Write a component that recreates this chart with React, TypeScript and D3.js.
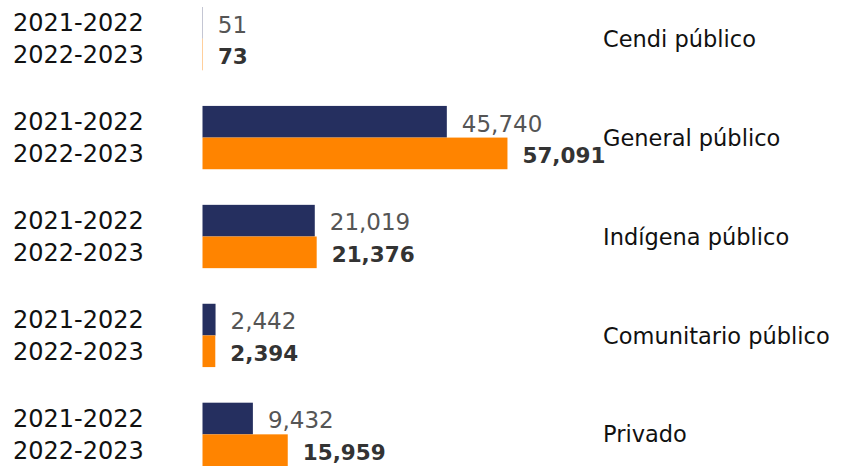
import { useEffect, useRef } from "react";
import * as d3 from "d3";

const categories = ["Cendi público", "General público", "Indígena público", "Comunitario público", "Privado"];
const periods = ["2021-2022", "2022-2023"];
const values2122 = [51, 45740, 21019, 2442, 9432];
const values2223 = [73, 57091, 21376, 2394, 15959];
const colors = ["#252f5f", "#ff8400"];

function App() {
    const myNode = useRef<HTMLDivElement>(null);

    useEffect(() => {
        const width = 847;
        const height = 472;
        const font = "'DejaVu Sans', sans-serif";

        d3.select(myNode.current).selectAll("*").remove();

        const svg = d3.select(myNode.current)
            .append("svg")
            .attr("width", width)
            .attr("height", height)
            .style("position", "absolute")
            .style("left", "0px")
            .style("top", "0px");

        const rows = categories.map((c, i) => ({
            category: c,
            values: [values2122[i], values2223[i]],
        }));

        const yScale = d3.scaleBand()
            .domain(categories)
            .range([7, 466])
            .paddingInner(0.36)
            .paddingOuter(0);

        const ySub = d3.scaleBand()
            .domain(periods)
            .range([0, yScale.bandwidth()]);

        const xScale = d3.scaleLinear()
            .domain([0, 60000])
            .range([202.5, 202.5 + 320.5]);

        const group = svg.selectAll("g.group")
            .data(rows)
            .enter()
            .append("g")
            .attr("class", "group")
            .attr("transform", d => `translate(0,${yScale(d.category)})`);

        // bars
        group.selectAll("rect")
            .data(d => d.values.map((v, i) => ({ period: periods[i], value: v, i })))
            .enter()
            .append("rect")
            .attr("x", xScale(0))
            .attr("y", d => ySub(d.period)!)
            .attr("width", d => xScale(d.value) - xScale(0))
            .attr("height", ySub.bandwidth())
            .attr("fill", d => colors[d.i]);

        // left period labels
        group.selectAll("text.period")
            .data(periods)
            .enter()
            .append("text")
            .attr("class", "period")
            .attr("x", 13)
            .attr("y", d => ySub(d)! + ySub.bandwidth() / 2)
            .attr("dy", "0.36em")
            .attr("font-family", font)
            .attr("font-size", 24)
            .attr("fill", "#111")
            .text(d => d);

        // value labels
        group.selectAll("text.value")
            .data(d => d.values.map((v, i) => ({ period: periods[i], value: v, i })))
            .enter()
            .append("text")
            .attr("class", "value")
            .attr("x", d => xScale(d.value) + 15)
            .attr("y", d => ySub(d.period)! + ySub.bandwidth() - 6)
            .attr("font-family", font)
            .attr("font-size", d => d.i === 0 ? 23 : 21.5)
            .attr("font-weight", d => d.i === 0 ? "normal" : "bold")
            .attr("fill", d => d.i === 0 ? "#555" : "#333")
            .text(d => d3.format(",")(d.value));

        // category labels
        group.append("text")
            .attr("x", 603)
            .attr("y", yScale.bandwidth() / 2)
            .attr("dy", "0.36em")
            .attr("font-family", font)
            .attr("font-size", 22.5)
            .attr("fill", "#111")
            .text(d => d.category);
    }, []);

    return <div ref={myNode} className="bar-groups"></div>;
}

export default App;
